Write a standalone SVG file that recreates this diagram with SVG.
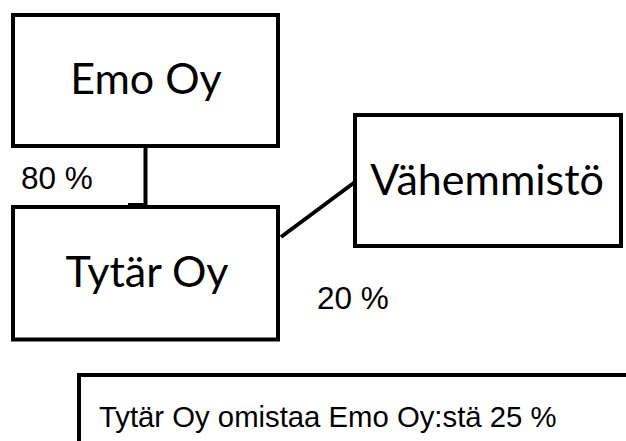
<svg xmlns="http://www.w3.org/2000/svg" width="626" height="441" viewBox="0 0 626 441">
<style>
.box{fill:#fff;stroke:#000;stroke-width:4}
.lbl{font-family:Lato,"Open Sans","Noto Sans",sans-serif;font-size:43px;fill:#000;text-anchor:middle}
.pct{font-family:"Liberation Sans",Arial,sans-serif;font-size:29.3px;fill:#000}
.pct2{font-size:31.5px}
.conn{stroke:#000;stroke-width:4;fill:none}
</style>
<rect width="626" height="441" fill="#fff"/>
<g id="connectors">
<path class="conn" d="M145.5 146 V206"/>
<path class="conn" d="M281 237 L355 182"/>
</g>
<g id="emo">
<rect class="box" x="13" y="15" width="265" height="131"/>
<text class="lbl" x="146" y="94">Emo Oy</text>
</g>
<g id="tytar">
<rect class="box" x="13" y="207" width="265" height="132.5"/>
<path class="conn" d="M128 205 H147"/>
<text class="lbl" x="147" y="287">Tytär Oy</text>
</g>
<g id="vahemmisto">
<rect class="box" x="355" y="115" width="266" height="131"/>
<text class="lbl" x="487" y="194.5">Vähemmistö</text>
</g>
<g id="labels">
<text class="pct pct2" x="21" y="189">80 %</text>
<text class="pct pct2" x="317" y="309">20 %</text>
</g>
<g id="note">
<rect class="box" x="79" y="375" width="600" height="120"/>
<text class="pct" x="99" y="427">Tytär Oy omistaa Emo Oy:stä 25 %</text>
</g>
</svg>
